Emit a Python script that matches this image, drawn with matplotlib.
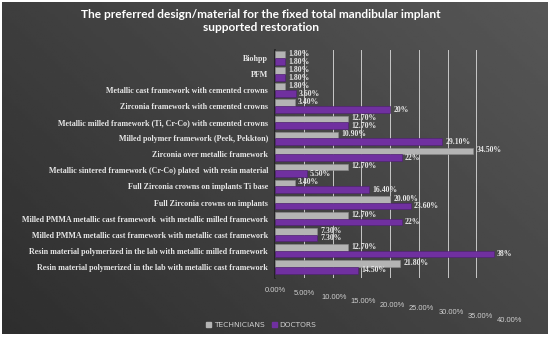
import matplotlib
matplotlib.use('Agg')
import matplotlib.pyplot as plt
import matplotlib.transforms as mtransforms
import numpy as np

# Categories, top to bottom
categories = [
    'Biohpp',
    'PFM',
    'Metallic cast framework with cemented crowns',
    'Zirconia framework with cemented crowns',
    'Metallic milled framework (Ti, Cr-Co) with cemented crowns',
    'Milled polymer framework (Peek, Pekkton)',
    'Zirconia over metallic framework',
    'Metallic sintered framework (Cr-Co) plated  with resin material',
    'Full Zirconia crowns on implants Ti base',
    'Full Zirconia crowns on implants',
    'Milled PMMA metallic cast framework  with metallic milled framework',
    'Milled PMMA metallic cast framework with metallic cast framework',
    'Resin material polymerized in the lab with metallic milled framework',
    'Resin material polymerized in the lab with metallic cast framework',
]

technicians = [1.80, 1.80, 1.80, 3.40, 12.70, 10.90, 34.50, 12.70, 3.40, 20.00, 12.70, 7.30, 12.70, 21.80]
doctors = [1.80, 1.80, 3.60, 20.0, 12.70, 29.10, 22.0, 5.50, 16.40, 23.60, 22.0, 7.30, 38.0, 14.50]

tech_labels = ['1.80%', '1.80%', '1.80%', '3.40%', '12.70%', '10.90%', '34.50%', '12.70%',
               '3.40%', '20.00%', '12.70%', '7.30%', '12.70%', '21.80%']
doc_labels = ['1.80%', '1.80%', '3.60%', '20%', '12.70%', '29.10%', '22%', '5.50%',
              '16.40%', '23.60%', '22%', '7.30%', '38%', '14.50%']

x_ticks = [0, 5, 10, 15, 20, 25, 30, 35, 40]
x_tick_labels = ['0.00%', '5.00%', '10.00%', '15.00%', '20.00%', '25.00%', '30.00%', '35.00%', '40.00%']

title = 'The preferred design/material for the fixed total mandibular implant\nsupported restoration'

gray = '#b4b4b4'
purple = '#7030a0'
text_col = '#e6e6e6'

fig = plt.figure(figsize=(5.5, 3.37), dpi=100)
fig.patch.set_facecolor('white')

# dark gradient background
bg = fig.add_axes([0.004, 0.01, 0.992, 0.985])
gx, gy = np.meshgrid(np.linspace(0, 1, 200), np.linspace(0, 1, 120))
shade = 0.18 + 0.16 * (0.6 * gx + 0.4 * gy)
bg.imshow(shade, cmap='gray', vmin=0, vmax=1, origin='lower', aspect='auto',
          extent=[0, 1, 0, 1])
bg.set_axis_off()

ax = fig.add_axes([275 / 550, 1 - 278 / 337, 230 / 550, 228 / 337])
ax.patch.set_alpha(0)

y = np.arange(len(categories))
h = 0.42
ax.barh(y - 0.21, technicians, height=h, color=gray, edgecolor='#8c8c8c', linewidth=0.4, zorder=3)
ax.barh(y + 0.21, doctors, height=h, color=purple, edgecolor='#4e1f73', linewidth=0.4, zorder=3)

for i in range(len(categories)):
    ax.text(technicians[i] + 0.6, y[i] - 0.25, tech_labels[i], fontsize=5.6, color=text_col,
            family='Liberation Serif', fontweight='bold', va='center', ha='left', zorder=4)
    ax.text(doctors[i] + 0.6, y[i] + 0.22, doc_labels[i], fontsize=5.6, color=text_col,
            family='Liberation Serif', fontweight='bold', va='center', ha='left', zorder=4)

ax.set_xlim(0, 40)
ax.set_ylim(len(categories) - 0.3, -0.5)
ax.set_xticks(x_ticks)
ax.set_xticklabels([])
ax.set_yticks(y)
ax.set_yticklabels(categories, fontsize=5.8, color=text_col, family='Liberation Serif',
                   fontweight='bold')
ax.tick_params(axis='both', length=0, pad=5)
ax.grid(axis='x', color='#c8c8c8', linewidth=0.7, zorder=1)
for s in ['top', 'right', 'bottom']:
    ax.spines[s].set_visible(False)
ax.spines['left'].set_color('#1e1e1e')
ax.spines['left'].set_linewidth(1.2)

# staggered x tick labels like the perspective axis
trans = mtransforms.blended_transform_factory(ax.transData, fig.transFigure)
for k, (xv, lab) in enumerate(zip(x_ticks, x_tick_labels)):
    ax.text(xv + 0.1 * k, 1 - (290 + 3.8 * k) / 337, lab, transform=trans, fontsize=5.4,
            color='#cfcfcf', ha='center', va='center', family='Liberation Sans')

fig.text(0.475, 1 - 21 / 337, title, ha='center', va='center', fontsize=8.6,
         fontweight='bold', color='white', family='Lato', linespacing=1.3)

handles = [plt.Rectangle((0, 0), 1, 1, color=gray), plt.Rectangle((0, 0), 1, 1, color=purple)]
leg = fig.legend(handles, ['TECHNICIANS', 'DOCTORS'], loc='center', bbox_to_anchor=(0.475, 1 - 325 / 337),
                 ncol=2, frameon=False, fontsize=5.4, handlelength=0.7, handleheight=0.7,
                 handletextpad=0.3, columnspacing=1.0)
for t in leg.get_texts():
    t.set_color('#cfcfcf')

fig.savefig('out.png', dpi=100, facecolor=fig.get_facecolor())
